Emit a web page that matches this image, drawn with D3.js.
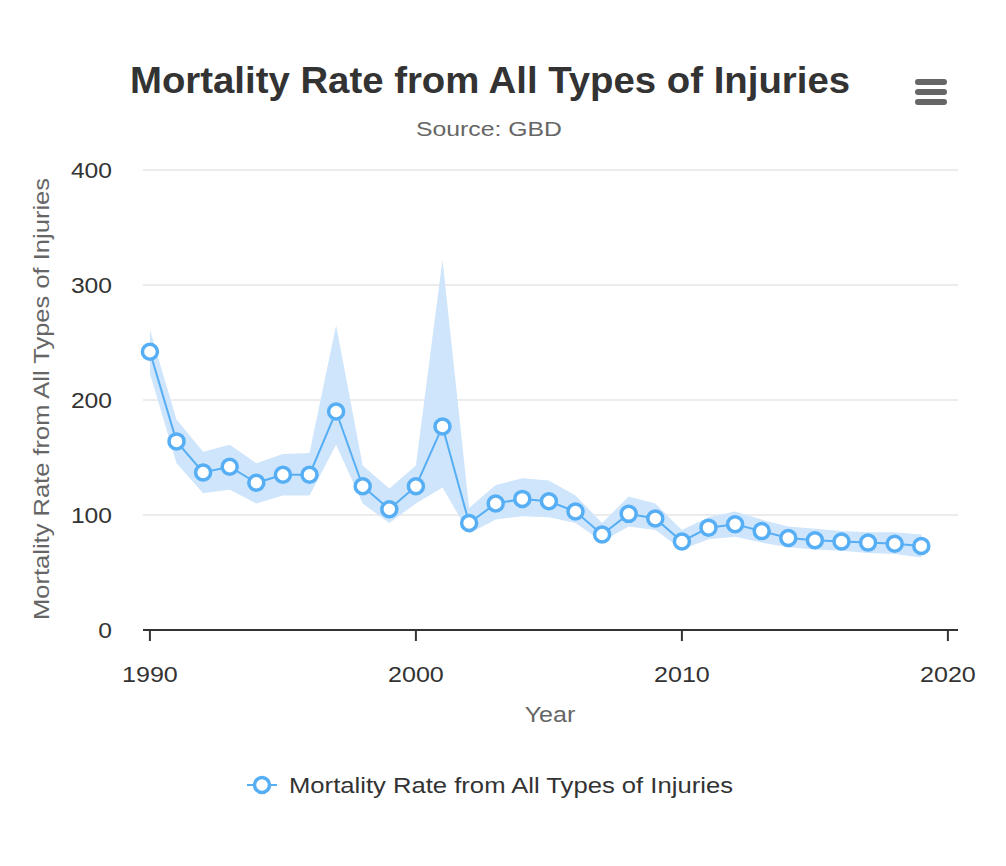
<!DOCTYPE html>
<html>
<head>
<meta charset="utf-8">
<script src="https://cdn.jsdelivr.net/npm/d3@7"></script>
<style>
  body { margin: 0; background: #fff; }
  svg { font-family: "Liberation Sans", Helvetica, Arial, sans-serif; }
</style>
</head>
<body>
<svg width="1006" height="866"></svg>
<script>
var years = d3.range(1990, 2020)
var rate = [242, 164, 137, 142, 128, 135, 135, 190, 125, 105, 125, 177, 93, 110, 114, 112, 103, 83, 101, 97, 77, 89, 92, 86, 80, 78, 77, 76, 75, 73]
var upper = [261, 183, 155, 161, 145, 153, 154, 265, 143, 123, 143, 322, 106, 126, 132, 130, 117, 93, 116, 110, 87, 98, 103, 96, 90, 88, 86, 85, 85, 83]
var lower = [223, 145, 119, 122, 110, 117, 117, 161, 110, 93, 110, 124, 84, 96, 99, 98, 93, 77, 90, 87, 70, 79, 81, 76, 72, 70, 69, 67, 66, 63]
var yTicks = [0, 100, 200, 300, 400]
var xTicks = [1990, 2000, 2010, 2020]

var svg = d3.select("svg")
var color = "#56aef5"

var x = d3.scaleLinear().domain([1989.74, 2020.38]).range([143, 958])
var y = d3.scaleLinear().domain([0, 400]).range([630, 170])

// widen text a bit, reference font runs wider than Arial
var stretch = function (sel, k) {
    sel.each(function () {
        var w = this.getComputedTextLength()
        d3.select(this).attr("textLength", w * k).attr("lengthAdjust", "spacingAndGlyphs")
    })
}

// title + subtitle
svg.append("text").attr("x", 490).attr("y", 93).attr("text-anchor", "middle")
    .style("font-size", "36px").style("font-weight", "bold").style("fill", "#333")
    .text("Mortality Rate from All Types of Injuries").call(stretch, 1.065)
svg.append("text").attr("x", 489).attr("y", 136).attr("text-anchor", "middle")
    .style("font-size", "21px").style("fill", "#666").text("Source: GBD").call(stretch, 1.18)

// menu icon
svg.append("g").selectAll("line").data([82, 92, 102]).enter().append("line")
    .attr("x1", 918).attr("x2", 944).attr("y1", d => d).attr("y2", d => d)
    .style("stroke", "#666").style("stroke-width", 6).style("stroke-linecap", "round")

// grid
svg.append("g").selectAll("line").data(yTicks.slice(1)).enter().append("line")
    .attr("x1", 143).attr("x2", 958).attr("y1", d => y(d)).attr("y2", d => y(d))
    .style("stroke", "#e6e6e6").style("stroke-width", 1.5)

// y labels
svg.append("g").selectAll("text").data(yTicks).enter().append("text")
    .attr("x", 112).attr("y", d => y(d) + 8).attr("text-anchor", "end")
    .style("font-size", "22px").style("fill", "#333").text(d => d).call(stretch, 1.12)

svg.append("text").attr("transform", "translate(49,399) rotate(-90)").attr("text-anchor", "middle")
    .style("font-size", "22px").style("fill", "#666").text("Mortality Rate from All Types of Injuries")
    .call(stretch, 1.16)

// x axis
svg.append("line").attr("x1", 143).attr("x2", 958).attr("y1", 630).attr("y2", 630)
    .style("stroke", "#333").style("stroke-width", 2)
svg.append("g").selectAll("line").data(xTicks).enter().append("line")
    .attr("x1", d => x(d)).attr("x2", d => x(d)).attr("y1", 630).attr("y2", 641)
    .style("stroke", "#333").style("stroke-width", 2)
svg.append("g").selectAll("text").data(xTicks).enter().append("text")
    .attr("x", d => x(d)).attr("y", 682).attr("text-anchor", "middle")
    .style("font-size", "22px").style("fill", "#333").text(d => d).call(stretch, 1.14)
svg.append("text").attr("x", 550).attr("y", 722).attr("text-anchor", "middle")
    .style("font-size", "22px").style("fill", "#666").text("Year").call(stretch, 1.14)

// band
var area = d3.area().x((d, i) => x(years[i])).y0((d, i) => y(lower[i])).y1((d, i) => y(upper[i]))
svg.append("path").datum(years).attr("d", area).style("fill", "#cfe5fb")

// line + markers
var line = d3.line().x((d, i) => x(years[i])).y(d => y(d))
svg.append("path").datum(rate).attr("d", line)
    .style("fill", "none").style("stroke", color).style("stroke-width", 2)
svg.append("g").selectAll("circle").data(rate).enter().append("circle")
    .attr("cx", (d, i) => x(years[i])).attr("cy", d => y(d)).attr("r", 7.5)
    .style("fill", "#fff").style("stroke", color).style("stroke-width", 3.5)

// legend
svg.append("line").attr("x1", 247).attr("x2", 277).attr("y1", 785).attr("y2", 785)
    .style("stroke", color).style("stroke-width", 2)
svg.append("circle").attr("cx", 262).attr("cy", 785).attr("r", 7.5)
    .style("fill", "#fff").style("stroke", color).style("stroke-width", 3.5)
svg.append("text").attr("x", 289).attr("y", 793)
    .style("font-size", "22px").style("fill", "#333").text("Mortality Rate from All Types of Injuries")
    .call(stretch, 1.165)
</script>
</body>
</html>
